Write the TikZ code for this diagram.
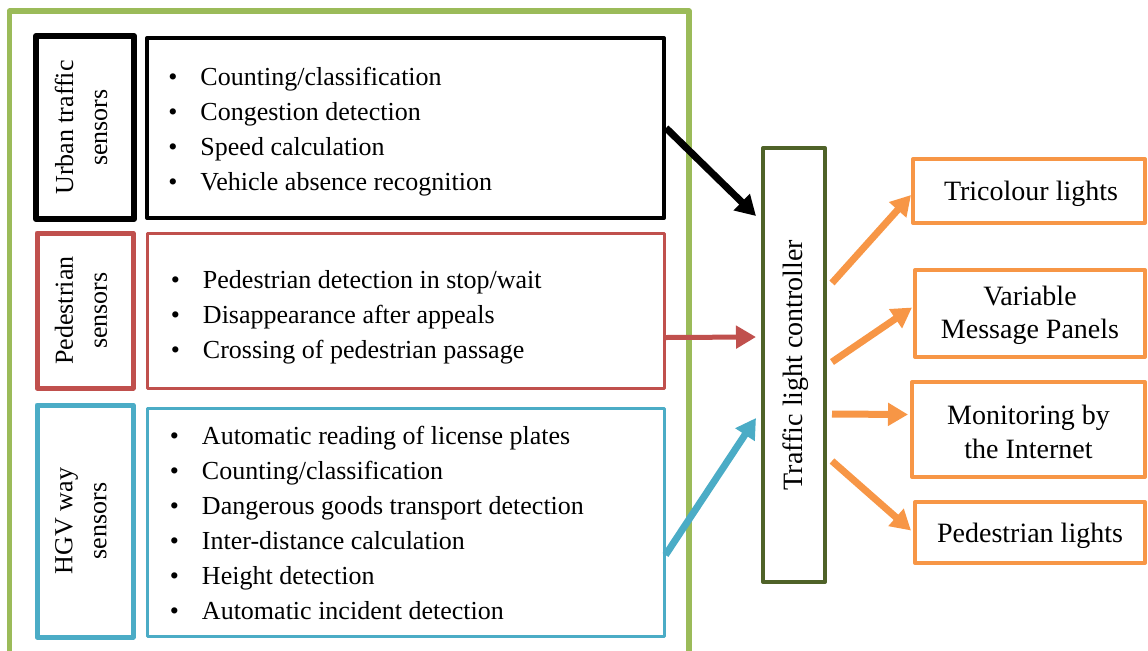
\documentclass[tikz,border=0pt]{standalone}
\usepackage{fontspec}
\setmainfont{Liberation Serif}
\usetikzlibrary{arrows.meta,fit,calc}
\definecolor{framegreen}{HTML}{9BBB59}
\definecolor{sensred}{HTML}{C0504D}
\definecolor{sensblue}{HTML}{4BACC6}
\definecolor{ctrlgreen}{HTML}{4F6228}
\definecolor{outorange}{HTML}{F79646}
\newcommand\bul{\textbullet\hspace{11.5pt}}

\begin{document}
\begin{tikzpicture}[x=0.5pt,y=-0.5pt,
    box/.style={draw, inner sep=0pt, line join=round},
    lab/.style={rotate=90, align=center, inner sep=0pt, font=\fontsize{13}{17}\selectfont},
    items/.style={anchor=west, align=left, inner sep=0pt, font=\fontsize{13}{17.5}\selectfont},
    outbox/.style={box, draw=outorange, line width=2pt},
    outtxt/.style={align=center, font=\fontsize{14}{16.5}\selectfont},
    link/.style={line width=3.5pt, -{Triangle[length=10pt,width=11pt]}}]
    \useasboundingbox (0,0) rectangle (1148,650);
    \clip (0,0) rectangle (1148,650);

    \node[box, draw=framegreen, line width=2.75pt, fit={(9.5,11) (689,690)}] (frame) {};

    \node[box, line width=3pt, fit={(36,36) (134,219)}] (ulab) {};
    \node[lab] (ulabtxt) at ($(ulab)+(-4,0)$) {Urban traffic\\sensors};
    \node[box, line width=2pt, fit={(147,38) (664,218)}] (ulist) {};
    \node[items] (ulisttxt) at ($(ulist.west)+(23,4)$) {\bul Counting/classification\\\bul Congestion detection\\\bul Speed calculation\\\bul Vehicle absence recognition};

    \node[box, draw=sensred, line width=2.5pt, fit={(37,233) (133,388)}] (plab) {};
    \node[lab] (plabtxt) at ($(plab)+(-4,0)$) {Pedestrian\\sensors};
    \node[box, draw=sensred, line width=1.5pt, fit={(147,233) (664,388)}] (plist) {};
    \node[items] (plisttxt) at ($(plist.west)+(25,7)$) {\bul Pedestrian detection in stop/wait\\\bul Disappearance after appeals\\\bul Crossing of pedestrian passage};

    \node[box, draw=sensblue, line width=2.5pt, fit={(37,405) (133,637)}] (hlab) {};
    \node[lab] (hlabtxt) at ($(hlab)+(-4,0)$) {HGV way\\sensors};
    \node[box, draw=sensblue, line width=1.5pt, fit={(147,408) (664,636)}] (hlist) {};
    \node[items] (hlisttxt) at ($(hlist.west)+(24,1)$) {\bul Automatic reading of license plates\\\bul Counting/classification\\\bul Dangerous goods transport detection\\\bul Inter-distance calculation\\\bul Height detection\\\bul Automatic incident detection};

    \node[box, draw=ctrlgreen, line width=2pt, fit={(763,148) (825,582)}] (ctrl) {};
    \node[lab, font=\fontsize{14}{17}\selectfont] (ctrltxt) at ($(ctrl)+(2,0)$) {Traffic light controller};

    \node[outbox, fit={(913,159) (1145,223)}] (tri) {};
    \node[outtxt] (tritxt) at ($(tri)+(2,3)$) {Tricolour lights};
    \node[outbox, fit={(915,270) (1145,357)}] (vmp) {};
    \node[outtxt] (vmptxt) at ($(vmp)+(0,2)$) {Variable\\Message Panels};
    \node[outbox, fit={(912,382) (1145,477)}] (mon) {};
    \node[outtxt, font=\fontsize{14}{17}\selectfont] (montxt) at ($(mon)+(0,2)$) {Monitoring by\\the Internet};
    \node[outbox, fit={(915,502) (1145,563)}] (pl) {};
    \node[outtxt] (pltxt) at ($(pl)+(0,3)$) {Pedestrian lights};

    \draw[link] (ulist.east) -- ($(ctrl.west)+(-5,-149)$);
    \draw[link, sensred, line width=2.5pt] ($(plist.east)+(0,27)$) -- ($(ctrl.west)+(-5,-28)$);
    \draw[link, sensblue] ($(hlist.east)+(0,33)$) -- ($(ctrl.west)+(-5,53)$);

    \draw[link, outorange] ($(ctrl.east)+(5,-82)$) -- ($(tri.west)+(0,4)$);
    \draw[link, outorange] ($(ctrl.east)+(5,-3)$) -- ($(vmp.west)+(-1,-6)$);
    \draw[link, outorange] ($(ctrl.east)+(5,49)$) -- ($(mon.west)+(-2,-15)$);
    \draw[link, outorange] ($(ctrl.east)+(5,96)$) -- ($(pl.west)+(-2,-2)$);
\end{tikzpicture}
\end{document}
